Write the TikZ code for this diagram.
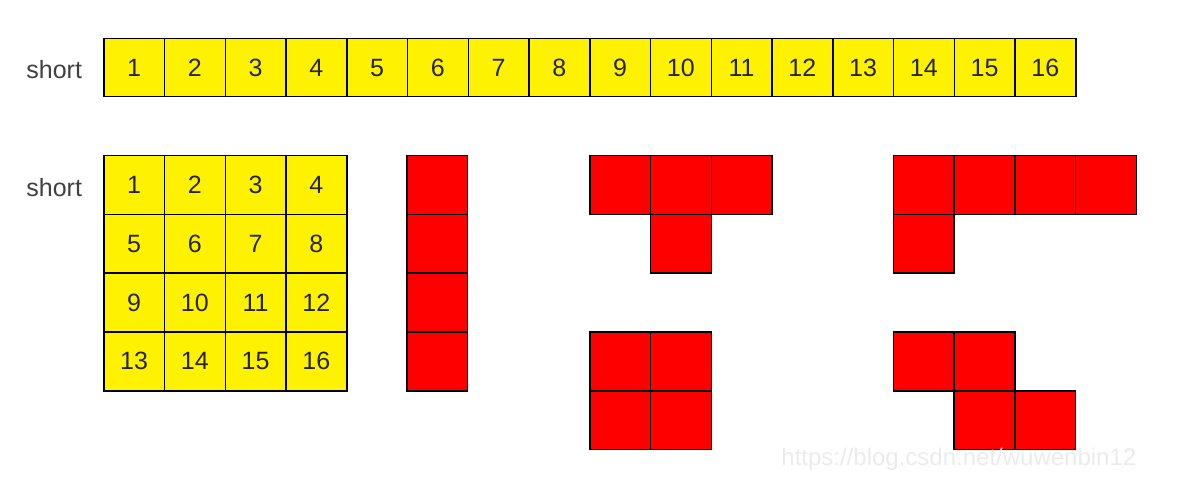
\documentclass[tikz,border=0pt]{standalone}
\usepackage{fontspec}
\setmainfont{Liberation Sans}
\begin{document}
\begin{tikzpicture}[x=0.5pt,y=-0.5pt,
  cellbase/.style={draw=black,line width=0.75pt,inner sep=0pt,anchor=north west,
    minimum width=30.375pt,minimum height=29.375pt,font=\fontsize{12.5}{14}\selectfont,text=black!85},
  ycell/.style={cellbase,fill=yellow},
  rcell/.style={cellbase,fill=red},
  lbl/.style={font=\fontsize{12.5}{14}\selectfont,text=black!75,anchor=west,inner sep=0pt},
  wm/.style={font=\fontsize{12}{14}\selectfont,text=black!8,anchor=west,inner sep=0pt}]
\useasboundingbox (0,0) rectangle (1197,496);
% top row
\node[lbl] (s1) at (26,70) {short};
\foreach \i in {1,...,16}{
  \node[ycell,minimum height=29pt] (t\i) at ({103+60.75*(\i-1)},38) {\i};
}
% grid
\node[lbl] (s2) at (26,188) {short};
\foreach \r in {0,...,3}{
  \foreach \c in {1,...,4}{
    \pgfmathtruncatemacro{\n}{4*\r+\c}
    \node[ycell] (g\n) at ({103+60.75*(\c-1)},{155+58.75*\r}) {\n};
  }
}
% I piece
\foreach \r in {0,...,3}{
  \node[rcell] (i\r) at (406,{155+58.75*\r}) {};
}
% T piece
\node[rcell] (ta) at (589,155) {};
\node[rcell] (tb) at (649.75,155) {};
\node[rcell] (tc) at (710.5,155) {};
\node[rcell] (td) at (649.75,213.75) {};
% L piece
\node[rcell] (la) at (892.5,155) {};
\node[rcell] (lb) at (953.25,155) {};
\node[rcell] (lc) at (1014,155) {};
\node[rcell] (ld) at (1074.75,155) {};
\node[rcell] (le) at (892.5,213.75) {};
% O piece
\node[rcell] (oa) at (589,331.25) {};
\node[rcell] (ob) at (649.75,331.25) {};
\node[rcell] (oc) at (589,390) {};
\node[rcell] (od) at (649.75,390) {};
% Z piece
\node[rcell] (za) at (892.5,331.25) {};
\node[rcell] (zb) at (953.25,331.25) {};
\node[rcell] (zc) at (953.25,390) {};
\node[rcell] (zd) at (1014,390) {};
% watermark
\node[wm] (wm) at (781,459) {https://blog.csdn.net/wuwenbin12};
\end{tikzpicture}
\end{document}
